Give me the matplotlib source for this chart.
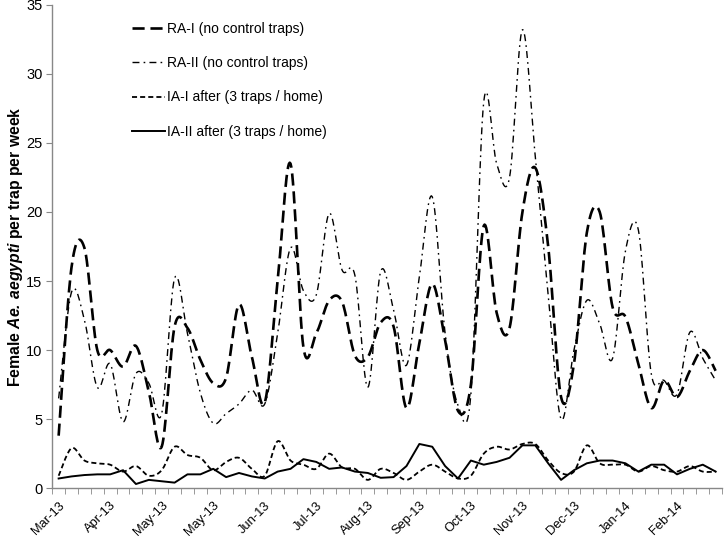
import matplotlib
matplotlib.use("Agg")
import matplotlib.pyplot as plt
import numpy as np

plt.rcParams['font.family'] = ['Liberation Sans', 'DejaVu Sans']
plt.rcParams['mathtext.fontset'] = 'custom'
plt.rcParams['mathtext.rm'] = 'Liberation Sans'
plt.rcParams['mathtext.bfit'] = 'Liberation Sans:bold:italic'

# weekly data, Mar-13 .. Feb-14
month_labels = ["Mar-13", "Apr-13", "May-13", "May-13", "Jun-13", "Jul-13", "Aug-13",
                "Sep-13", "Oct-13", "Nov-13", "Dec-13", "Jan-14", "Feb-14"]

ra1 = [3.8, 16.0, 17.4, 10.0, 10.0, 8.8, 10.3, 7.0, 3.0, 11.7, 11.6, 9.3, 7.6,
       8.0, 13.3, 9.5, 6.2, 15.0, 23.5, 10.2, 11.2, 13.6, 13.5, 9.6, 9.5, 12.0,
       11.7, 5.8, 10.5, 14.8, 10.7, 5.6, 7.5, 19.0, 12.7, 11.6, 20.0, 23.2, 17.5,
       6.6, 9.0, 18.5, 20.0, 13.1, 12.4, 9.0, 5.8, 7.8, 6.6, 8.5, 10.0, 8.5]

ra2 = [6.5, 14.2, 12.2, 7.3, 9.0, 4.8, 8.3, 7.6, 5.4, 15.2, 11.2, 6.9, 4.7,
       5.4, 6.1, 7.1, 6.1, 11.2, 17.4, 14.3, 14.0, 19.9, 15.8, 15.4, 7.3, 15.7,
       12.9, 8.9, 15.3, 21.1, 11.2, 6.0, 6.8, 28.0, 23.5, 22.5, 33.2, 24.0, 14.0,
       5.0, 10.0, 13.6, 11.9, 9.4, 17.2, 18.7, 8.3, 7.8, 6.8, 11.3, 9.4, 7.8]

ia1 = [0.9, 2.9, 2.0, 1.8, 1.7, 1.2, 1.6, 0.9, 1.3, 3.0, 2.4, 2.2, 1.3,
       1.9, 2.2, 1.4, 0.9, 3.4, 2.0, 1.7, 1.4, 2.5, 1.5, 1.4, 0.6, 1.4,
       1.1, 0.6, 1.2, 1.7, 1.2, 0.7, 0.9, 2.5, 3.0, 2.8, 3.2, 3.2, 2.0,
       1.1, 1.2, 3.1, 1.8, 1.7, 1.7, 1.2, 1.6, 1.3, 1.2, 1.6, 1.2, 1.2]

ia2 = [0.7, 0.85, 0.95, 1.0, 1.0, 1.3, 0.3, 0.6, 0.5, 0.4, 1.0, 1.0, 1.4,
       0.8, 1.1, 0.85, 0.7, 1.2, 1.4, 2.1, 1.9, 1.4, 1.5, 1.2, 1.1, 0.75,
       0.8, 1.6, 3.2, 3.0, 1.6, 0.7, 2.0, 1.7, 1.9, 2.2, 3.1, 3.1, 1.8,
       0.6, 1.3, 1.8, 2.0, 2.0, 1.8, 1.2, 1.7, 1.7, 1.0, 1.4, 1.7, 1.2]


def smooth(x, y, n=16):
    # Excel-like smoothed line (Catmull-Rom through the points)
    x = np.asarray(x, float)
    y = np.asarray(y, float)
    px = np.concatenate([[x[0]], x, [x[-1]]])
    py = np.concatenate([[y[0]], y, [y[-1]]])
    xs, ys = [], []
    t = np.linspace(0, 1, n, endpoint=False)
    for i in range(1, len(px) - 2):
        p0, p1, p2, p3 = px[i-1], px[i], px[i+1], px[i+2]
        q0, q1, q2, q3 = py[i-1], py[i], py[i+1], py[i+2]
        c1x, c1y = p1 + (p2 - p0) / 6, q1 + (q2 - q0) / 6
        c2x, c2y = p2 - (p3 - p1) / 6, q2 - (q3 - q1) / 6
        b0 = (1 - t) ** 3
        b1 = 3 * (1 - t) ** 2 * t
        b2 = 3 * (1 - t) * t ** 2
        b3 = t ** 3
        xs.append(b0 * p1 + b1 * c1x + b2 * c2x + b3 * p2)
        ys.append(b0 * q1 + b1 * c1y + b2 * c2y + b3 * q2)
    xs.append([x[-1]])
    ys.append([y[-1]])
    return np.concatenate(xs), np.concatenate(ys)


weeks = np.arange(len(ra1))

fig = plt.figure(figsize=(7.25, 5.4), dpi=100)
ax = fig.add_axes([0.072, 0.096, 0.924, 0.895])

sx, sy = smooth(weeks, ra1)
ax.plot(sx, sy, color='black', lw=1.9, dashes=(4.6, 2.2), label='RA-I (no control traps)')
sx, sy = smooth(weeks, ra2)
ax.plot(sx, sy, color='black', lw=1.0, dashes=(5, 3, 1.2, 3), label='RA-II (no control traps)')
sx, sy = smooth(weeks, ia1)
ax.plot(sx, sy, color='black', lw=1.3, dashes=(2.8, 1.7), label='IA-I after (3 traps / home)')
ax.plot(weeks, ia2, color='black', lw=1.4, label='IA-II after (3 traps / home)')

ax.set_xlim(-0.5, len(weeks) - 0.5)
ax.set_ylim(0, 35)
ax.set_yticks(np.arange(0, 36, 5))
ax.tick_params(axis='y', labelsize=10.5, length=4, color='#888888', pad=3)

ax.set_xticks(np.arange(-0.5, len(weeks), 1), minor=True)
ax.set_xticks(weeks[::4])
ax.set_xticklabels(month_labels, rotation=45, ha='right', rotation_mode='anchor', fontsize=9.3)
ax.tick_params(axis='x', which='major', length=0, pad=8)
ax.tick_params(axis='x', which='minor', length=4, color='#888888')

for s in ['top', 'right']:
    ax.spines[s].set_visible(False)
for s in ['left', 'bottom']:
    ax.spines[s].set_color('#888888')
    ax.spines[s].set_linewidth(1.0)

ax.set_ylabel(r'Female $\mathbfit{Ae.\,aegypti}$ per trap per week', fontsize=11.3,
              fontweight='bold')
ax.yaxis.set_label_coords(-0.04, 0.5)

ax.legend(loc='upper left', bbox_to_anchor=(0.1, 0.99), frameon=False, fontsize=10,
          handlelength=2.4, handletextpad=0.15, labelspacing=1.45)

fig.savefig('out.png', dpi=100)
